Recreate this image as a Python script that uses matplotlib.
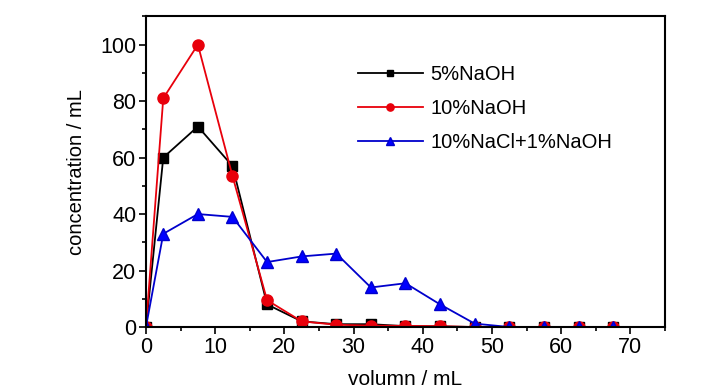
import matplotlib.pyplot as plt
import numpy as np

plt.rcParams["font.family"] = ["Liberation Sans", "DejaVu Sans"]

# elution volume (mL)
volume = [0, 2.5, 7.5, 12.5, 17.5, 22.5, 27.5, 32.5, 37.5, 42.5, 47.5, 52.5, 57.5, 62.5, 67.5]

naoh_5 = [0, 60, 71, 57, 8, 2, 1, 1, 0.3, 0.2, 0, 0, 0, 0, 0]
naoh_10 = [0, 81, 100, 53.5, 9.5, 2, 0.8, 0.5, 0.4, 0.3, 0, 0, 0, 0, 0]
nacl_naoh = [0, 33, 40, 39, 23, 25, 26, 14, 15.5, 8, 1.2, 0, 0, 0, 0]

labels = ["5%NaOH", "10%NaOH", "10%NaCl+1%NaOH"]

fig = plt.figure(figsize=(7.28, 3.9), dpi=100)
ax = fig.add_axes([0.2005, 0.1615, 0.7130, 0.7965])

ax.plot(volume, naoh_5, color="black", marker="s", markersize=7, linewidth=1.3, label=labels[0])
ax.plot(volume, naoh_10, color="#e8000b", marker="o", markersize=8, linewidth=1.3, label=labels[1])
ax.plot(volume, nacl_naoh, color="#0000cc", marker="^", markersize=9, linewidth=1.3,
        markerfacecolor="#0000ff", label=labels[2])

ax.set_xlim(0, 75)
ax.set_ylim(0, 110)
ax.set_xticks(np.arange(0, 71, 10))
ax.set_xticks(np.arange(0, 76, 5), minor=True)
ax.set_yticks(np.arange(0, 101, 20))
ax.set_yticks(np.arange(0, 111, 10), minor=True)
ax.tick_params(which="major", direction="out", length=5, width=1.2, labelsize=15.5, pad=2)
ax.tick_params(which="minor", direction="out", length=3, width=1.2)
for sp in ax.spines.values():
    sp.set_linewidth(1.5)

ax.set_xlabel("volumn / mL", fontsize=15, labelpad=9)
ax.set_ylabel("concentration / mL", fontsize=14.5, labelpad=10)

leg = ax.legend(loc="upper left", bbox_to_anchor=(0.374, 0.9025), frameon=False, fontsize=14.5,
                handlelength=3.2, markerscale=0.65, labelspacing=0.75, handletextpad=0.4)

fig.savefig("out.png", dpi=100)
